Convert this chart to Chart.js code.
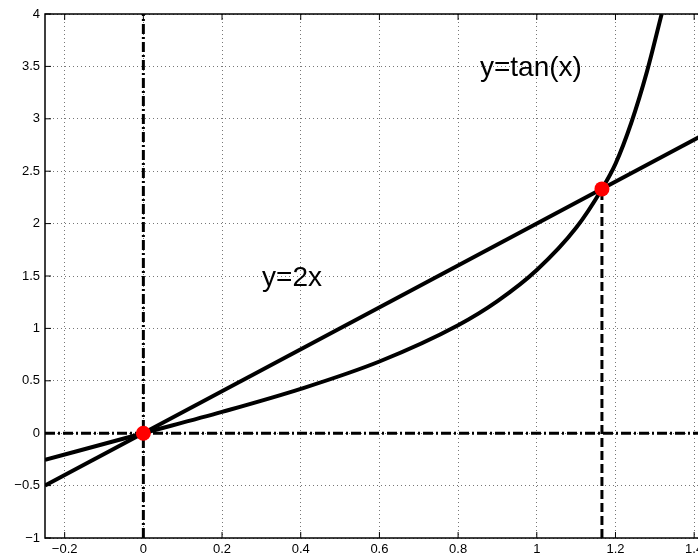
<!DOCTYPE html>
<html lang="en">
<head>
  <meta charset="UTF-8" />
  <title>y=2x and y=tan(x)</title>
  <script src="https://cdn.jsdelivr.net/npm/chart.js"></script>
  <style>
    html, body { margin: 0; padding: 0; background: #fff; overflow: hidden; }
    #wrap { width: 698px; height: 559px; overflow: hidden; }
  </style>
</head>
<body>
  <div id="wrap">
    <canvas id="plot" width="760" height="559"></canvas>
  </div>

  <script>
    // straight line y=2x
    const lineX = [-0.25, 1.5];
    const lineY = [-0.5, 3.0];

    // y=tan(x), values
    const tanX = [-0.25, 0, 0.2, 0.4, 0.6, 0.8, 0.9, 1.0, 1.1, 1.1656, 1.2, 1.24, 1.28, 1.3174];
    const tanY = [-0.255, 0, 0.203, 0.423, 0.684, 1.03, 1.26, 1.557, 1.96, 2.331, 2.57, 2.96, 3.45, 4.0];

    // intersection points
    const crossX = [0, 1.1656];
    const crossY = [0, 2.331];

    // guide lines
    const hGuideX = [-0.25, 1.5];
    const hGuideY = [0, 0];
    const vGuide0X = [0, 0];
    const vGuide0Y = [-1, 4];
    const vGuide1X = [1.1656, 1.1656];
    const vGuide1Y = [-1, 2.331];

    // text labels
    const labelText = ['y=2x', 'y=tan(x)'];
    const labelX = [0.378, 0.985];
    const labelY = [1.48, 3.48];

    const pts = (xs, ys) => xs.map((x, i) => ({ x: x, y: ys[i] }));
    const fmt = v => String(Math.round(v * 100) / 100).replace('-', '\u2212');
    const FONT = '"Liberation Sans", Arial, Helvetica, sans-serif';

    const framePlugin = {
      id: 'frame',
      afterDraw(chart) {
        const { ctx, chartArea: a, scales } = chart;
        ctx.save();
        ctx.strokeStyle = '#000';
        ctx.lineWidth = 1.5;
        ctx.strokeRect(a.left, a.top, a.right - a.left, a.bottom - a.top);
        ctx.lineWidth = 1;
        scales.x.ticks.forEach(t => {
          const px = scales.x.getPixelForValue(t.value);
          ctx.beginPath();
          ctx.moveTo(px, a.bottom); ctx.lineTo(px, a.bottom - 6);
          ctx.moveTo(px, a.top); ctx.lineTo(px, a.top + 6);
          ctx.stroke();
        });
        scales.y.ticks.forEach(t => {
          const py = scales.y.getPixelForValue(t.value);
          ctx.beginPath();
          ctx.moveTo(a.left, py); ctx.lineTo(a.left + 6, py);
          ctx.moveTo(a.right, py); ctx.lineTo(a.right - 6, py);
          ctx.stroke();
        });
        ctx.fillStyle = '#000';
        ctx.font = '28px ' + FONT;
        ctx.textAlign = 'center';
        ctx.textBaseline = 'middle';
        labelText.forEach((s, i) => {
          ctx.fillText(s, scales.x.getPixelForValue(labelX[i]), scales.y.getPixelForValue(labelY[i]));
        });
        ctx.restore();
      }
    };

    new Chart(document.getElementById('plot'), {
      type: 'scatter',
      data: {
        datasets: [
          {
            data: pts(crossX, crossY),
            showLine: false,
            pointRadius: 7.5,
            pointBackgroundColor: '#ff0000',
            pointBorderWidth: 0
          },
          {
            data: pts(lineX, lineY),
            showLine: true,
            borderColor: '#000',
            borderWidth: 4,
            pointRadius: 0
          },
          {
            data: pts(tanX, tanY),
            showLine: true,
            borderColor: '#000',
            borderWidth: 4,
            pointRadius: 0,
            cubicInterpolationMode: 'monotone'
          },
          {
            data: pts(hGuideX, hGuideY),
            showLine: true,
            borderColor: '#000',
            borderWidth: 3,
            borderDash: [10, 3, 2, 3],
            pointRadius: 0
          },
          {
            data: pts(vGuide0X, vGuide0Y),
            showLine: true,
            borderColor: '#000',
            borderWidth: 3,
            borderDash: [10, 3, 2, 3],
            pointRadius: 0
          },
          {
            data: pts(vGuide1X, vGuide1Y),
            showLine: true,
            borderColor: '#000',
            borderWidth: 3,
            borderDash: [9, 4],
            pointRadius: 0
          }
        ]
      },
      options: {
        responsive: false,
        animation: false,
        devicePixelRatio: 1,
        layout: { padding: { top: 14, right: 26.5, left: 0, bottom: 0 } },
        plugins: {
          legend: { display: false },
          tooltip: { enabled: false }
        },
        scales: {
          x: {
            type: 'linear',
            min: -0.25,
            max: 1.5,
            afterFit: s => { s.height = 21; },
            border: { display: false, dash: [1, 3] },
            grid: { color: '#777', lineWidth: 1, drawTicks: false },
            ticks: {
              stepSize: 0.2,
              includeBounds: false,
              padding: 4,
              color: '#000',
              font: { family: FONT, size: 13 },
              maxRotation: 0,
              autoSkip: false,
              callback: v => fmt(v)
            }
          },
          y: {
            min: -1,
            max: 4,
            afterFit: s => { s.width = 45; },
            border: { display: false, dash: [1, 3] },
            grid: { color: '#777', lineWidth: 1, drawTicks: false },
            ticks: {
              stepSize: 0.5,
              padding: 5,
              color: '#000',
              font: { family: FONT, size: 13 },
              autoSkip: false,
              callback: v => fmt(v)
            }
          }
        }
      },
      plugins: [framePlugin]
    });
  </script>
</body>
</html>
